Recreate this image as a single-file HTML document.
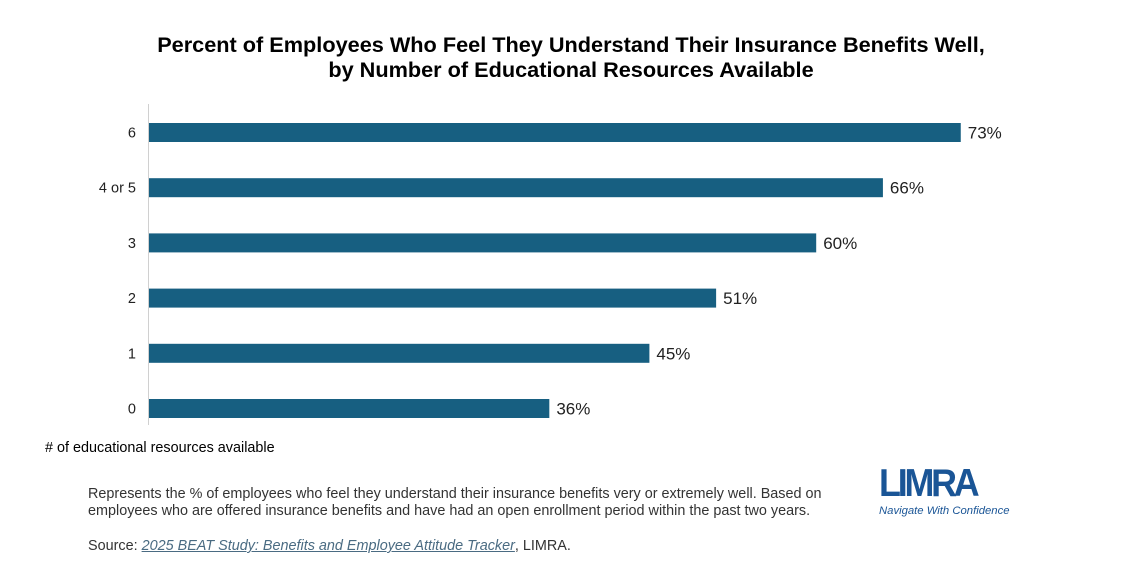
<!DOCTYPE html>
<html><head><meta charset="utf-8">
<style>
body{margin:0;background:#fff;font-family:"Liberation Sans",Arial,sans-serif;}
#wrap{position:relative;width:1123px;height:586px;overflow:hidden;}
.t{position:absolute;white-space:nowrap;}
</style></head>
<body>
<div id="wrap">
<div class="t" style="left:0;width:1142px;text-align:center;top:32px;font-size:21.7px;font-weight:bold;line-height:25px;color:#000;">Percent of Employees Who Feel They Understand Their Insurance Benefits Well,<br>by Number of Educational Resources Available</div>
<svg id="chart" width="1123" height="586" style="position:absolute;left:0;top:0"></svg>
<div class="t" style="left:45px;top:440px;font-size:14.4px;color:#000;"># of educational resources available</div>
<div class="t" style="left:88px;top:486px;font-size:14.4px;line-height:17px;color:#333;">Represents the % of employees who feel they understand their insurance benefits very or extremely well. Based on<br>employees who are offered insurance benefits and have had an open enrollment period within the past two years.</div>
<div class="t" style="left:88px;top:538px;font-size:14.4px;color:#333;">Source: <span style="font-style:italic;text-decoration:underline;color:#4a6b82;">2025 BEAT Study: Benefits and Employee Attitude Tracker</span>, LIMRA.</div>
<div style="position:absolute;left:879px;top:466px;">
<div style="font-size:39px;font-weight:900;color:#1a5596;letter-spacing:-3.5px;line-height:36px;transform:scaleX(0.92);transform-origin:left;font-family:'Liberation Sans',sans-serif;">LIMRA</div>
<div style="font-size:11.3px;font-style:italic;color:#1a5596;margin-top:3px;">Navigate With Confidence</div>
</div>
</div>
<script>
const categories=["6","4 or 5","3","2","1","0"];
const values=[73,66,60,51,45,36];
const valueLabels=["73%","66%","60%","51%","45%","36%"];
const svg=document.getElementById('chart');
const NS='http://www.w3.org/2000/svg';
const x0=149, pxPer=11.12;
function xScale(v){return x0+v*pxPer;}
function yScale(i){return 132.5+i*55.2;}
const axis=document.createElementNS(NS,'line');
axis.setAttribute('x1',x0-0.5);axis.setAttribute('x2',x0-0.5);axis.setAttribute('y1',104);axis.setAttribute('y2',425);
axis.setAttribute('stroke','#d0d0d0');axis.setAttribute('stroke-width','1');


svg.appendChild(axis);
categories.forEach((c,i)=>{
  const y=yScale(i);
  const r=document.createElementNS(NS,'rect');
  r.setAttribute('x',x0);r.setAttribute('y',y-9.5);
  r.setAttribute('width',xScale(values[i])-x0);r.setAttribute('height',19);
  r.setAttribute('fill','#175f81');
  
  
  svg.appendChild(r);
  const t=document.createElementNS(NS,'text');
  t.setAttribute('x',136);t.setAttribute('y',y+5);t.setAttribute('text-anchor','end');
  t.setAttribute('font-size','14.5');t.setAttribute('font-family','Liberation Sans, sans-serif');t.setAttribute('fill','#222');
  t.textContent=c;
  
  
  svg.appendChild(t);
  const v=document.createElementNS(NS,'text');
  v.setAttribute('x',xScale(values[i])+7);v.setAttribute('y',y+6);
  v.setAttribute('font-size','17');v.setAttribute('font-family','Liberation Sans, sans-serif');v.setAttribute('fill','#222');
  v.textContent=valueLabels[i];
  
  
  svg.appendChild(v);
});
</script>
</body></html>
